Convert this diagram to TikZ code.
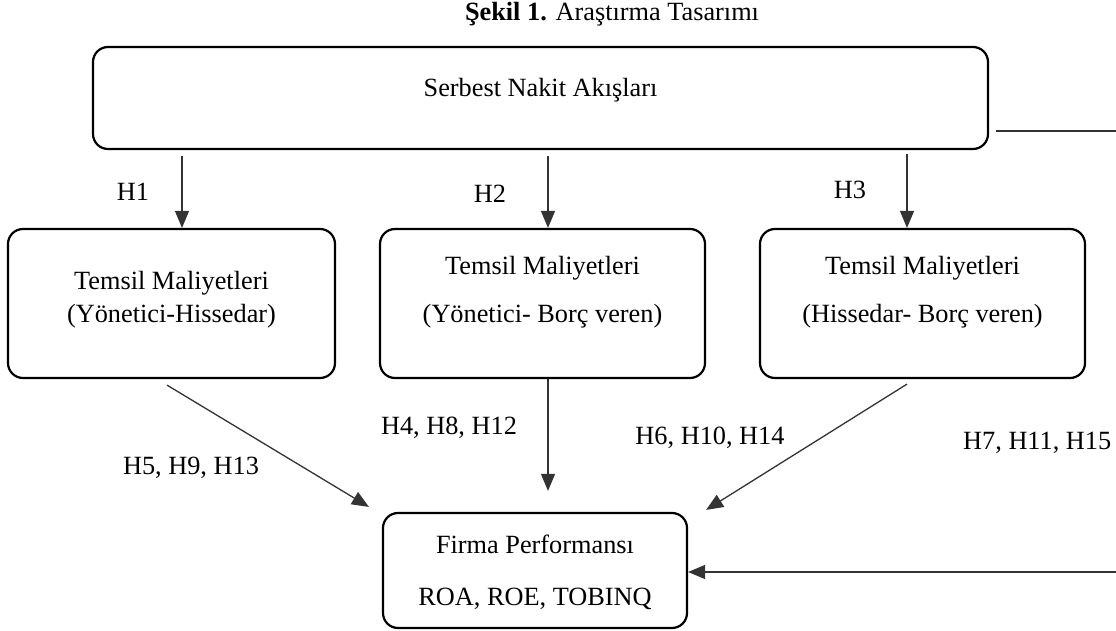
\documentclass[tikz,border=0pt]{standalone}
\usepackage{fontspec}
\setmainfont{Liberation Serif}
\usetikzlibrary{arrows.meta}
\begin{document}
\begin{tikzpicture}[x=1pt,y=-1pt,
  txt/.style={inner sep=0pt, align=center, font=\fontsize{26.3}{33}\selectfont},
  box/.style={draw=black, line width=2.2pt, rounded corners=15pt, inner sep=0pt},
  conn/.style={draw=black!80, line width=1.3pt},
  arr/.style={conn, -{Triangle[length=17pt,width=14pt]}}]
\useasboundingbox (0,0) rectangle (1116,631);
% title
\node[txt] (title) at (612,14) {\textbf{Şekil 1.} Araştırma Tasarımı};
% boxes
\node[box, minimum width=895pt, minimum height=102pt] (top) at (540.5,98) {};
\node[txt] (toptxt) at (540.5,90) {Serbest Nakit Akışları};
\node[box, minimum width=327pt, minimum height=149pt] (b1) at (171.5,303.5) {};
\node[txt] (b1txt) at (171.5,300) {Temsil Maliyetleri\\(Yönetici-Hissedar)};
\node[box, minimum width=325pt, minimum height=149pt] (b2) at (542.5,303.5) {};
\node[txt] (b2txt) at (542.5,292) {Temsil Maliyetleri\\[15pt](Yönetici- Borç veren)};
\node[box, minimum width=325pt, minimum height=149pt] (b3) at (922.5,303.5) {};
\node[txt] (b3txt) at (922.5,292) {Temsil Maliyetleri\\[15pt](Hissedar- Borç veren)};
\node[box, minimum width=304pt, minimum height=115pt] (fp) at (535,570.5) {};
\node[txt] (fptxt) at (535,572) {Firma Performansı\\[19pt]ROA, ROE, TOBINQ};
% labels
\node[txt] (h1) at (133,192) {H1};
\node[txt] (h2) at (490,194) {H2};
\node[txt] (h3) at (850,190) {H3};
\node[txt] (h4) at (449,428) {H4, H8, H12};
\node[txt] (h5) at (191,468) {H5, H9, H13};
\node[txt] (h6) at (710,438) {H6, H10, H14};
\node[txt, anchor=west] (h7) at (963,443) {H7, H11, H15};
% connectors
\coordinate (x1) at (182,0);
\coordinate (x2) at (548,0);
\coordinate (x3) at (907,0);
\draw[arr] ([yshift=-6pt]top.south -| x1) -- (b1.north -| x1);
\draw[arr] ([yshift=-6pt]top.south -| x2) -- (b2.north -| x2);
\draw[arr] ([yshift=-4pt]top.south -| x3) -- (b3.north -| x3);
\draw[arr] ([xshift=-4.5pt,yshift=-6pt]b1.south) -- ([xshift=-13pt,yshift=5pt]fp.north west);
\draw[arr] (b2.south -| x2) -- ([yshift=21pt]fp.north -| x2);
\draw[arr] ([xshift=-15.5pt,yshift=-5pt]b3.south) -- ([xshift=18pt,yshift=2pt]fp.north east);
\coordinate (r1) at (1116,131);
\coordinate (r2) at (1116,572);
\draw[conn] ([xshift=7pt]top.east |- r1) -- (r1);
\draw[arr] (r2) -- (fp.east |- r2);
\end{tikzpicture}
\end{document}
